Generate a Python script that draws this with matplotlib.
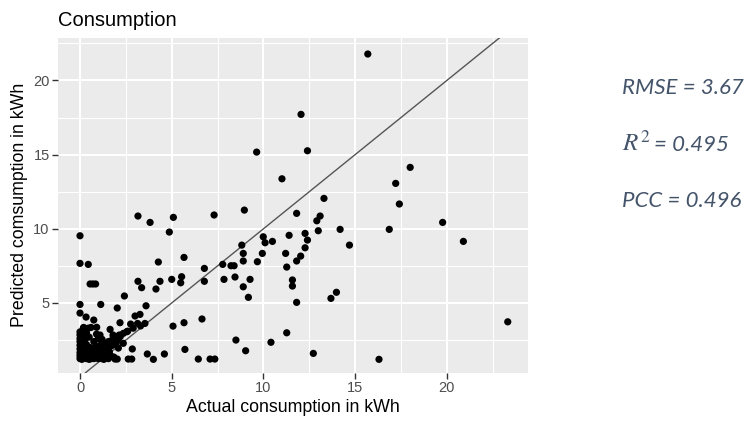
import numpy as np
import matplotlib
matplotlib.use("Agg")
import matplotlib.pyplot as plt
from matplotlib.ticker import MultipleLocator

# Actual vs predicted consumption (kWh)
actual = [
    15.69, 12.05, 9.63, 12.40, 11.01, 17.21, 18.00, 13.30, 17.41, 11.81,
    13.09, 12.91, 12.99, 14.18, 16.86, 19.77, 20.90, 9.99, 10.09, 10.49,
    11.40, 12.27, 12.40, 12.27, 12.03, 11.81, 11.21, 11.27, 9.94, 9.67,
    14.69, 9.27, 11.58, 11.58, 11.81, 13.98, 13.68, 11.27, 10.41, 12.72,
    16.30, 23.32, 8.96, 7.31, 5.09, 4.87, 3.16, 3.82, 0.00, 0.00,
    0.45, 4.27, 5.67, 8.82, 8.90, 8.90, 7.78, 8.23, 8.40, 6.78,
    5.00, 5.54, 5.49, 6.78, 7.85, 8.45, 8.90, 9.18, 4.36, 3.16,
    3.36, 4.14, 0.55, 0.70, 0.85, 2.42, 0.00, 1.13, 2.03, 3.60,
    0.00, 0.33, 0.75, 0.20, 0.91, 2.18, 2.76, 3.14, 3.54, 3.00,
    3.27, 5.07, 5.67, 6.65, 8.50, 9.03, 5.72, 6.45, 7.09, 7.35,
    3.67, 4.00, 4.60, 2.85, 2.82, 2.63, 1.91, 2.03, 2.09, 1.64,
    2.55, 2.36, 2.14, 1.09, 1.82, 2.36,
    # dense low-consumption cluster
    0.00, 0.00, 0.00, 0.00, 0.00, 0.00, 0.00, 0.00, 0.00,
    0.15, 0.20, 0.15, 0.20, 0.25, 0.18,
    0.35, 0.40, 0.45, 0.35, 0.50, 0.45, 0.60,
    0.60, 0.70, 0.80, 0.65, 0.90, 0.75, 0.85, 0.95, 0.90,
    1.00, 1.10, 1.20, 1.05, 1.25, 1.15, 1.30, 1.00, 1.20,
    1.40, 1.50, 1.60, 1.45, 1.70, 1.55, 1.75, 1.80,
    1.95, 2.10, 2.20, 2.00, 1.90, 2.90, 3.30, 2.60, 1.70, 1.30,
    0.10, 0.30, 0.50, 0.55, 0.75, 1.05, 1.30, 1.55, 1.65, 1.85,
    1.20, 0.10, 0.30, 0.10, 0.30, 0.10, 0.35, 1.35, 1.50, 1.60,
    1.85, 2.00, 1.05, 0.55, 0.80,
]
predicted = [
    21.78, 17.71, 15.17, 15.26, 13.37, 13.06, 14.14, 12.05, 11.67, 11.04,
    10.86, 10.54, 9.87, 9.96, 9.96, 10.43, 9.15, 9.46, 9.06, 9.15,
    9.56, 9.69, 9.24, 8.72, 8.16, 7.83, 8.34, 7.42, 8.34, 7.78,
    8.90, 6.59, 6.55, 6.14, 5.04, 5.72, 5.31, 2.99, 2.35, 1.60,
    1.20, 3.73, 11.26, 10.93, 10.77, 9.78, 10.86, 10.43, 9.53, 7.67,
    7.60, 7.76, 8.07, 8.90, 8.34, 7.83, 7.60, 7.51, 7.51, 7.33,
    6.59, 6.77, 6.36, 6.46, 6.59, 6.75, 6.09, 5.38, 6.46, 6.46,
    6.03, 5.94, 6.28, 6.28, 6.28, 5.47, 4.90, 4.90, 4.66, 4.81,
    4.32, 4.05, 3.85, 3.35, 3.36, 3.67, 3.58, 3.62, 3.62, 4.12,
    4.23, 3.44, 3.67, 3.92, 2.50, 1.78, 1.87, 1.22, 1.22, 1.22,
    1.56, 1.20, 1.56, 1.90, 1.22, 1.22, 1.22, 1.22, 1.96, 3.22,
    3.06, 2.95, 2.84, 2.84, 2.72, 2.28,
    1.25, 1.45, 1.65, 1.90, 2.15, 2.40, 2.60, 2.85, 3.05,
    1.30, 1.55, 2.00, 2.50, 2.90, 3.30,
    1.25, 1.50, 1.80, 2.20, 2.70, 3.30, 3.35,
    1.25, 1.40, 1.60, 1.90, 2.10, 2.40, 1.30, 1.50, 2.90,
    1.25, 1.40, 1.60, 1.80, 1.90, 2.20, 2.30, 2.60, 2.55,
    1.30, 1.50, 1.70, 2.00, 2.10, 2.40, 2.50, 2.84,
    2.30, 2.60, 2.75, 2.50, 2.60, 3.30, 3.45, 3.10, 1.40, 1.55,
    1.20, 1.35, 1.20, 1.45, 1.25, 1.50, 1.20, 1.25, 1.45, 1.35,
    1.25, 1.75, 1.70, 2.30, 2.60, 2.70, 3.00, 1.75, 1.95, 2.20,
    2.20, 2.40, 2.05, 2.00, 1.80,
]

x_ticks = [0, 5, 10, 15, 20]
y_ticks = [5, 10, 15, 20]
rmse_text = "RMSE = 3.67"
r2_symbol = "$R^2$"
r2_text = "= 0.495"
pcc_text = "PCC = 0.496"

plt.rcParams["font.family"] = ["Liberation Sans", "DejaVu Sans"]
plt.rcParams["mathtext.fontset"] = "stix"

fig = plt.figure(figsize=(7.47, 4.24), dpi=100)
ax = fig.add_axes([58 / 747, 1 - 372.7 / 424, (528.3 - 58) / 747, (372.7 - 38) / 424])

ax.set_facecolor("#EBEBEB")
for s in ax.spines.values():
    s.set_visible(False)

ax.set_xlim(-1.2, 24.44)
ax.set_ylim(0.30, 22.86)
ax.xaxis.set_minor_locator(MultipleLocator(2.5))
ax.yaxis.set_minor_locator(MultipleLocator(2.5))
ax.set_xticks(x_ticks)
ax.set_yticks(y_ticks)

ax.grid(which="major", color="white", linewidth=1.5)
ax.grid(which="minor", color="white", linewidth=0.8)
ax.set_axisbelow(True)

ax.tick_params(which="major", length=4, width=1.0, color="#333333",
               labelsize=10.5, labelcolor="#4D4D4D", pad=2)
ax.tick_params(which="minor", length=0)

# identity line
ax.axline((0, 0), slope=1, color="#555555", linewidth=1.0, zorder=2)

ax.scatter(actual, predicted, s=27, color="black", edgecolors="none", zorder=3)

ax.set_xlabel("Actual consumption in kWh", fontsize=12.8, color="black", labelpad=3)
ax.set_ylabel("Predicted comsumption in kWh", fontsize=12.8, color="black", labelpad=4)

fig.text(58 / 747, 1 - 20 / 424, "Consumption", fontsize=14.5, ha="left", va="center")

# goodness-of-fit summary
style = dict(color="#44546A", family=["Lato", "DejaVu Sans"], style="italic",
             ha="left", va="baseline")
fig.text(621.7 / 747, 1 - 94 / 424, rmse_text, fontsize=16, **style)
fig.text(621.7 / 747, 1 - 150.7 / 424, r2_symbol, fontsize=18, **style)
fig.text(654 / 747, 1 - 150.7 / 424, r2_text, fontsize=16, **style)
fig.text(621.7 / 747, 1 - 206.7 / 424, pcc_text, fontsize=16, **style)

fig.savefig("out.png", dpi=100)
